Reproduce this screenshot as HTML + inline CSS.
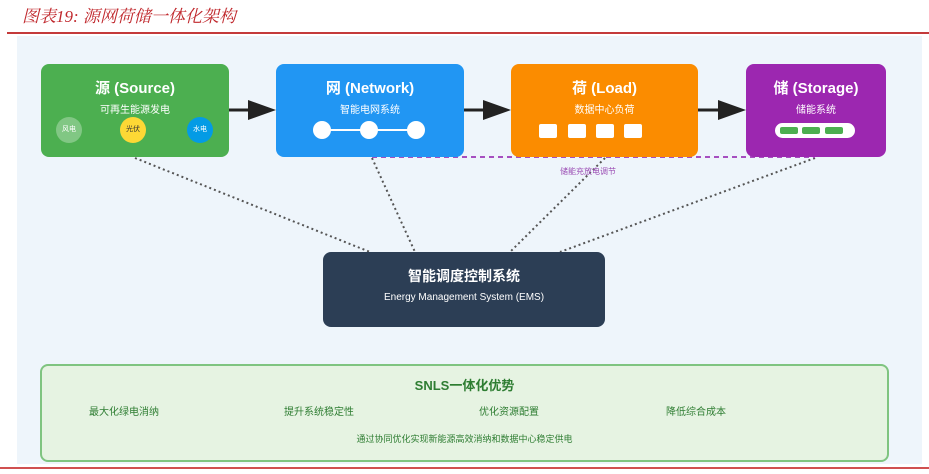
<!DOCTYPE html>
<html><head><meta charset="utf-8"><style>
body{margin:0;width:929px;height:474px;background:#fff;position:relative;overflow:hidden;font-family:"Liberation Sans","Noto Sans CJK SC",sans-serif}
.a{position:absolute}
.box{position:absolute;border-radius:8px;color:#fff;text-align:center}
.t{font-weight:bold;font-size:15px;margin-top:13px}
.s{font-size:10px;margin-top:3px}
</style></head><body>
<div class="a" style="left:22px;top:2px;font-family:'Liberation Serif','Noto Serif CJK SC',serif;font-style:italic;color:#c0282d;font-size:17px">图表19:&nbsp;源网荷储一体化架构</div>
<div class="a" style="left:7px;top:32px;width:922px;height:2px;background:#c43a3a"></div>
<div class="a" style="left:17px;top:36px;width:905px;height:428px;background:#eef5fb"></div>
<div class="a" style="left:0;top:467px;width:929px;height:2px;background:#d05050"></div>
<svg class="a" style="left:0;top:0" width="929" height="474">
<g stroke="#555" stroke-width="2" stroke-dasharray="2,3" fill="none">
<line x1="135" y1="158" x2="370" y2="252"/><line x1="372" y1="158" x2="415" y2="252"/>
<line x1="605" y1="158" x2="510" y2="252"/><line x1="815" y1="158" x2="560" y2="252"/></g>
<line x1="372" y1="157" x2="815" y2="157" stroke="#a64fc0" stroke-width="2" stroke-dasharray="5,4"/>
<g stroke="#222" stroke-width="3"><line x1="229" y1="110" x2="255" y2="110"/><line x1="464" y1="110" x2="490" y2="110"/><line x1="698" y1="110" x2="725" y2="110"/></g>
<g fill="#222"><polygon points="248,100 276,110 248,120"/><polygon points="483,100 511,110 483,120"/><polygon points="718,100 746,110 718,120"/></g>
</svg>
<div class="box" style="left:41px;top:64px;width:188px;height:93px;background:#4caf50"><div class="t">源 (Source)</div><div class="s">可再生能源发电</div></div>
<div class="a" style="left:56px;top:117px;width:26px;height:26px;border-radius:50%;background:#81c784;color:#fff;font-size:7px;line-height:26px;text-align:center">风电</div>
<div class="a" style="left:120px;top:117px;width:26px;height:26px;border-radius:50%;background:#fdd835;color:#333;font-size:7px;line-height:26px;text-align:center">光伏</div>
<div class="a" style="left:187px;top:117px;width:26px;height:26px;border-radius:50%;background:#039be5;color:#fff;font-size:7px;line-height:26px;text-align:center">水电</div>
<div class="box" style="left:276px;top:64px;width:188px;height:93px;background:#2196f3"><div class="t">网 (Network)</div><div class="s">智能电网系统</div></div>
<div class="a" style="left:322px;top:129px;width:94px;height:2px;background:#fff"></div>
<div class="a" style="left:313px;top:121px;width:18px;height:18px;border-radius:50%;background:#fff"></div>
<div class="a" style="left:360px;top:121px;width:18px;height:18px;border-radius:50%;background:#fff"></div>
<div class="a" style="left:407px;top:121px;width:18px;height:18px;border-radius:50%;background:#fff"></div>
<div class="box" style="left:511px;top:64px;width:187px;height:93px;background:#fb8c00"><div class="t">荷 (Load)</div><div class="s">数据中心负荷</div></div>
<div class="a" style="left:539px;top:124px;width:18px;height:14px;background:#fff;border-radius:2px"></div>
<div class="a" style="left:568px;top:124px;width:18px;height:14px;background:#fff;border-radius:2px"></div>
<div class="a" style="left:596px;top:124px;width:18px;height:14px;background:#fff;border-radius:2px"></div>
<div class="a" style="left:624px;top:124px;width:18px;height:14px;background:#fff;border-radius:2px"></div>
<div class="box" style="left:746px;top:64px;width:140px;height:93px;background:#9c27b0"><div class="t">储 (Storage)</div><div class="s">储能系统</div></div>
<div class="a" style="left:775px;top:123px;width:80px;height:15px;background:#fff;border-radius:8px"></div>
<div class="a" style="left:780px;top:127px;width:18px;height:7px;background:#4caf50;border-radius:2px"></div>
<div class="a" style="left:802px;top:127px;width:18px;height:7px;background:#4caf50;border-radius:2px"></div>
<div class="a" style="left:825px;top:127px;width:18px;height:7px;background:#4caf50;border-radius:2px"></div>
<div class="a" style="left:560px;top:166px;font-size:8px;color:#9c4fb5">储能充放电调节</div>
<div class="box" style="left:323px;top:252px;width:282px;height:75px;background:#2c3e55"><div style="font-weight:bold;font-size:14px;margin-top:14px">智能调度控制系统</div><div style="font-size:10px;margin-top:6px">Energy Management System (EMS)</div></div>
<div class="a" style="left:40px;top:364px;width:845px;height:94px;background:#e6f3e2;border:2px solid #7fc480;border-radius:8px;color:#2e7d32">
<div class="a" style="left:0;width:845px;top:9px;text-align:center;font-weight:bold;font-size:13px">SNLS一体化优势</div>
<div class="a" style="left:47px;top:37px;font-size:10px">最大化绿电消纳</div>
<div class="a" style="left:242px;top:37px;font-size:10px">提升系统稳定性</div>
<div class="a" style="left:437px;top:37px;font-size:10px">优化资源配置</div>
<div class="a" style="left:624px;top:37px;font-size:10px">降低综合成本</div>
<div class="a" style="left:0;width:845px;top:66px;text-align:center;font-size:9px">通过协同优化实现新能源高效消纳和数据中心稳定供电</div>
</div>
</body></html>
